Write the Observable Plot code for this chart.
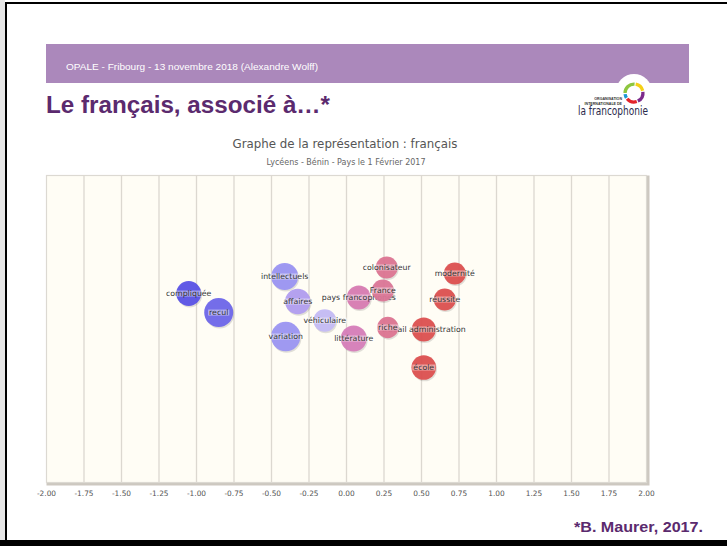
<!DOCTYPE html>
<html>
<head>
<meta charset="utf-8">
<script src="https://cdn.jsdelivr.net/npm/d3@7"></script>
<script src="https://cdn.jsdelivr.net/npm/@observablehq/plot@0.6"></script>
<style>
html, body { margin: 0; padding: 0; background: #fff; }
#page { position: relative; width: 727px; height: 546px; overflow: hidden; background: #fff; }
#deco { position: absolute; left: 0; top: 0; }
#chart { position: absolute; left: 0; top: 170px; }
</style>
</head>
<body>
<div id="page">
<svg id="deco" width="727" height="546" xmlns="http://www.w3.org/2000/svg">
  <rect x="0" y="0" width="5" height="546" fill="#e6e6e6"/>
  <rect x="5" y="2" width="722" height="2" fill="#000"/>
  <rect x="5" y="2" width="2" height="544" fill="#000"/>
  <rect x="0" y="540" width="727" height="6" fill="#000"/>
  <rect x="46" y="44" width="643" height="39" fill="#ab88bb"/>
  <text x="66" y="69.5" font-family="Liberation Sans, Arial, sans-serif" font-size="9.5" fill="#fff" textLength="252" lengthAdjust="spacingAndGlyphs">OPALE - Fribourg - 13 novembre 2018 (Alexandre Wolff)</text>
  <text x="46" y="113" font-family="Liberation Sans, Arial, sans-serif" font-weight="bold" font-size="23" fill="#5b2a6e" textLength="284" lengthAdjust="spacingAndGlyphs">Le français, associé à…*</text>
  <circle cx="634" cy="92" r="18" fill="#fff"/>
  <g id="ring" transform="translate(634,93)"></g>
  <text x="622" y="100" text-anchor="end" font-family="Liberation Sans, Arial, sans-serif" font-size="3.6" fill="#333" font-weight="bold">ORGANISATION</text>
  <text x="622" y="104.5" text-anchor="end" font-family="Liberation Sans, Arial, sans-serif" font-size="3.6" fill="#333" font-weight="bold">INTERNATIONALE DE</text>
  <text x="578" y="115" font-family="DejaVu Sans, sans-serif" font-size="11.5" fill="#2b2a4c" textLength="70" lengthAdjust="spacingAndGlyphs">la francophonie</text>
  <text x="345" y="148" text-anchor="middle" font-family="DejaVu Sans, sans-serif" font-size="13" fill="#555" textLength="225" lengthAdjust="spacingAndGlyphs">Graphe de la représentation : français</text>
  <text x="346" y="165" text-anchor="middle" font-family="DejaVu Sans, sans-serif" font-size="8.5" fill="#666" textLength="159" lengthAdjust="spacingAndGlyphs">Lycéens - Bénin - Pays le 1 Février 2017</text>
  <text x="703" y="532" text-anchor="end" font-family="Liberation Sans, Arial, sans-serif" font-weight="bold" font-size="14" fill="#5b2a6e" textLength="129" lengthAdjust="spacingAndGlyphs">*B. Maurer, 2017.</text>
</svg>
<div id="chart"></div>
</div>
<script>
// ---- Data (drawing order) ----
const words = ["compliquée", "recul", "intellectuels", "affaires", "variation", "véhiculaire",
  "littérature", "pays francophones", "colonisateur", "France", "travail administration",
  "riche", "modernité", "réussite", "école"];
const axe1 = [-1.052, -0.852, -0.412, -0.325, -0.405, -0.145,
  0.048, 0.082, 0.268, 0.242, 0.515,
  0.275, 0.722, 0.655, 0.515];
const axe2 = [0.231, 0.107, 0.342, 0.179, -0.049, 0.055,
  -0.062, 0.205, 0.401, 0.251, -0.003,
  0.010, 0.362, 0.192, -0.251];
const effectifs = [156, 210, 182, 161, 216, 128,
  169, 144, 121, 121, 144,
  114, 121, 121, 151];
const xTicks = [-2, -1.75, -1.5, -1.25, -1, -0.75, -0.5, -0.25, 0, 0.25, 0.5, 0.75, 1, 1.25, 1.5, 1.75, 2];
const xTickLabels = ["-2.00", "-1.75", "-1.50", "-1.25", "-1.00", "-0.75", "-0.50", "-0.25", "0.00",
  "0.25", "0.50", "0.75", "1.00", "1.25", "1.50", "1.75", "2.00"];
const gridTicks = [-1.75, -1.5, -1.25, -1, -0.75, -0.5, -0.25, 0, 0.25, 0.5, 0.75, 1, 1.25, 1.5, 1.75];

const data = words.map((w, i) => ({mot: w, x: axe1[i], y: axe2[i], n: effectifs[i]}));

// ---- Logo ring ----
const ringSegs = [
  {a0: -0.50, a1: 0.02, c: "#8dc63f"},
  {a0: 0.06, a1: 0.42, c: "#f5d016"},
  {a0: 0.46, a1: 0.86, c: "#7d2a8c"},
  {a0: 0.90, a1: 1.28, c: "#e2232a"},
  {a0: 1.32, a1: 1.46, c: "#1b98d5"}
];
const arc = d3.arc().innerRadius(7.3).outerRadius(10.6);
const ring = d3.select("#ring");
ringSegs.forEach(s => ring.append("path")
  .attr("d", arc({startAngle: s.a0 * Math.PI, endAngle: s.a1 * Math.PI}))
  .attr("fill", s.c));

// ---- Chart ----
const marks = [
  Plot.frame({stroke: "#cdc8c0", strokeWidth: 3, dx: 1.5, dy: 1.5}),
  Plot.frame({fill: "#fffdf5", stroke: "#dcd9d2", strokeWidth: 1.2}),
  Plot.ruleX(gridTicks, {stroke: "#dcd8d0", strokeWidth: 1.3})
];
for (const d of data) {
  marks.push(Plot.dot([d], {x: "x", y: "y", r: "n", fill: "#000", fillOpacity: 0.12, dx: 1, dy: 1.5}));
  marks.push(Plot.dot([d], {x: "x", y: "y", r: "n", fill: "x", fillOpacity: 0.95}));
  marks.push(Plot.text([d], {x: "x", y: "y", text: "mot", fill: "#333", fontSize: 7.8}));
}

const chart = Plot.plot({
  width: 727,
  height: 342,
  marginTop: 5,
  marginBottom: 30,
  marginLeft: 46,
  marginRight: 81,
  style: {fontFamily: "'DejaVu Sans', sans-serif", fontSize: "7.4px", color: "#555", background: "transparent"},
  x: {domain: [-2, 2], ticks: xTicks, tickFormat: d => xTickLabels[xTicks.indexOf(d)], tickSize: 0, tickPadding: 8, label: null, line: false},
  y: {domain: [-1, 1], axis: null},
  r: {type: "sqrt", domain: [0, 225], range: [0, 15]},
  color: {type: "linear",
    domain: [-1.05, -0.41, -0.33, -0.15, 0.05, 0.27, 0.5],
    range: ["#5a52e6", "#9a94f2", "#b09cf0", "#c4bcf6", "#d67cb8", "#dc7592", "#dc5050"],
    interpolate: "rgb", clamp: true},
  marks
});
document.getElementById("chart").append(chart);

// translucent band behind each word label
chart.querySelectorAll('g[aria-label="text"] text').forEach(t => {
  const b = t.getBBox();
  const r = document.createElementNS("http://www.w3.org/2000/svg", "rect");
  r.setAttribute("x", b.x - 1);
  r.setAttribute("y", b.y + 1.5);
  r.setAttribute("width", b.width + 2);
  r.setAttribute("height", Math.max(0, b.height - 3));
  if (t.getAttribute("transform")) r.setAttribute("transform", t.getAttribute("transform"));
  r.setAttribute("fill", "#fff");
  r.setAttribute("fill-opacity", "0.45");
  t.parentNode.insertBefore(r, t);
});
</script>
</body>
</html>
